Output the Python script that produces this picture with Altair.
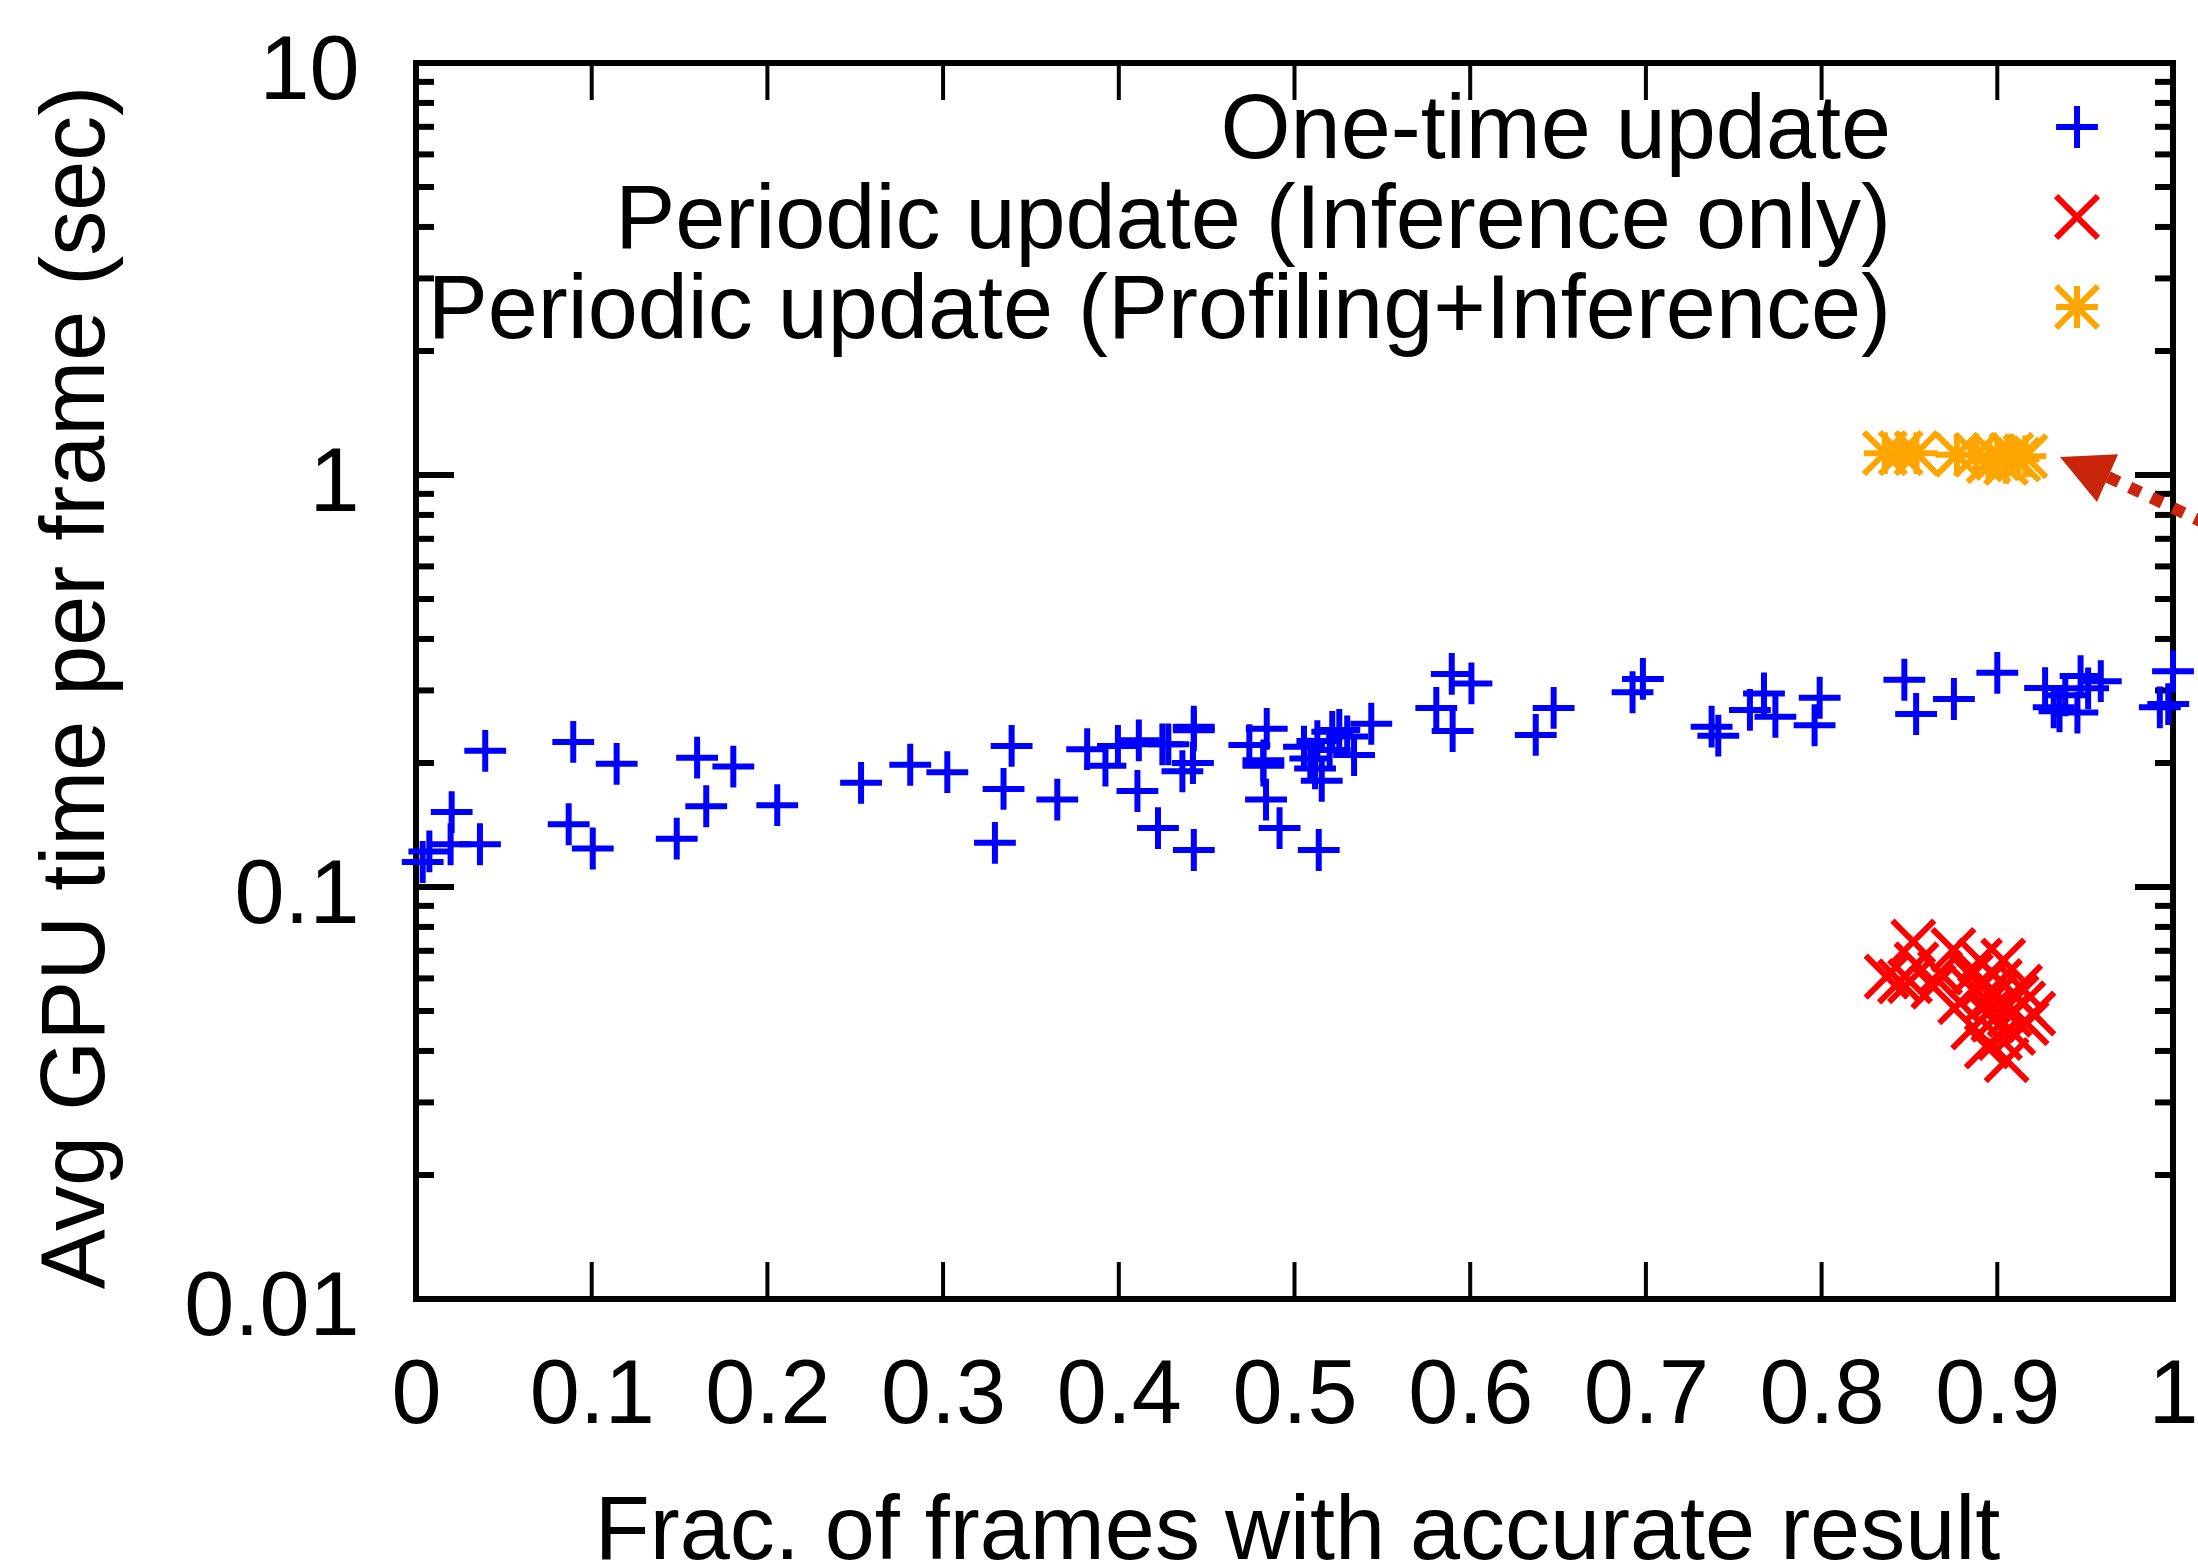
import altair as alt
import pandas as pd

# ---------------- data ----------------
x_tick_values = [0, 0.1, 0.2, 0.3, 0.4, 0.5, 0.6, 0.7, 0.8, 0.9, 1.0]
y_major_values = [0.01, 0.1, 1, 10]
y_minor_values = [0.02, 0.03, 0.04, 0.05, 0.06, 0.07, 0.08, 0.09,
                  0.2, 0.3, 0.4, 0.5, 0.6, 0.7, 0.8, 0.9,
                  2, 3, 4, 5, 6, 7, 8, 9]

series_names = ["One-time update",
                "Periodic update (Inference only)",
                "Periodic update (Profiling+Inference)"]
series_colors = ["#0000ff", "#ff0000", "#ffa500"]

one_time_x = [0.0038, 0.0076, 0.0197, 0.0203, 0.0364, 0.0394, 0.0869, 0.0895, 0.1006, 0.1142,
              0.1484, 0.160, 0.1652, 0.1806, 0.2056, 0.2533, 0.2813, 0.3024, 0.3295, 0.3344,
              0.339, 0.365, 0.382, 0.3924, 0.3995, 0.4106, 0.4114, 0.4223, 0.4248, 0.4282,
              0.4362, 0.4422, 0.4427, 0.4427, 0.4427, 0.4743, 0.4823, 0.4823, 0.4842, 0.4838,
              0.4915, 0.5054, 0.509, 0.5117, 0.513, 0.5138, 0.5155, 0.5200, 0.5215, 0.5255,
              0.530, 0.5339, 0.5437, 0.5807, 0.5895, 0.590, 0.6007, 0.6373, 0.6475, 0.6924,
              0.6983, 0.7374, 0.7412, 0.7592, 0.7672, 0.7737, 0.796, 0.7989, 0.8471, 0.8538,
              0.8753, 0.900, 0.9272, 0.9321, 0.9354, 0.9387, 0.9456, 0.9474, 0.9517, 0.9589,
              0.9925, 0.9973, 1.0]
one_time_y = [0.115, 0.122, 0.127, 0.152, 0.127, 0.214, 0.142, 0.225, 0.124, 0.199,
              0.131, 0.206, 0.157, 0.196, 0.158, 0.179, 0.198, 0.190, 0.128, 0.173,
              0.220, 0.163, 0.216, 0.197, 0.220, 0.171, 0.227, 0.139, 0.222, 0.222,
              0.191, 0.200, 0.245, 0.240, 0.123, 0.221, 0.203, 0.197, 0.242, 0.163,
              0.139, 0.219, 0.205, 0.194, 0.226, 0.123, 0.181, 0.215, 0.238, 0.2405,
              0.232, 0.209, 0.249, 0.272, 0.329, 0.239, 0.312, 0.234, 0.272, 0.297,
              0.320, 0.245, 0.233, 0.269, 0.295, 0.259, 0.247, 0.288, 0.3185, 0.263,
              0.286, 0.331, 0.304, 0.273, 0.267, 0.292, 0.265, 0.325, 0.3035, 0.316,
              0.273, 0.278, 0.334]

infer_only_x = [0.837, 0.8446, 0.8503, 0.8522, 0.854, 0.8636, 0.8674, 0.875, 0.8788, 0.8863,
                0.8863, 0.8901, 0.894, 0.894, 0.8977, 0.9015, 0.9015, 0.9034, 0.9053, 0.9091,
                0.913, 0.9148, 0.9167, 0.9205, 0.8958, 0.8996, 0.907, 0.892, 0.885, 0.911]
infer_only_y = [0.0606, 0.059, 0.0591, 0.0737, 0.0649, 0.0573, 0.0619, 0.0703, 0.0525, 0.0563,
                0.0456, 0.0663, 0.0532, 0.041, 0.0476, 0.0591, 0.043, 0.0663, 0.038, 0.0442,
                0.0573, 0.0522, 0.0467, 0.0493, 0.050, 0.055, 0.049, 0.058, 0.061, 0.054]

prof_infer_x = [0.836, 0.845, 0.854, 0.877, 0.888, 0.895, 0.900, 0.905, 0.908, 0.912, 0.916]
prof_infer_y = [1.13, 1.13, 1.13, 1.12, 1.12, 1.08, 1.10, 1.07, 1.12, 1.09, 1.11]

# annotation arrow (data coordinates)
arrow_x = [0.963, 1.0324]
arrow_y = [0.989, 0.715]
arrow_tip_x = [0.9357]
arrow_tip_y = [1.106]

# ---------------- chart ----------------
W, H = 1757, 1236
FONT = "Liberation Sans"
FS = 90
ARROW = "#c8250a"

pts_df = pd.concat([
    pd.DataFrame({"x": one_time_x, "y": one_time_y, "series": series_names[0]}),
    pd.DataFrame({"x": infer_only_x, "y": infer_only_y, "series": series_names[1]}),
    pd.DataFrame({"x": prof_infer_x, "y": prof_infer_y, "series": series_names[2]}),
], ignore_index=True)

xscale = alt.Scale(domain=[0, 1], nice=False, zero=False)
yscale = alt.Scale(type="log", domain=[0.01, 10], nice=False)

PLUS = "M-1,0L1,0M0,-1L0,1"
CROSS = "M-1,-1L1,1M-1,1L1,-1"
STAR = "M-1,0L1,0M0,-1L0,1M-1,-1L1,1M-1,1L1,-1"
shape_scale = alt.Scale(domain=series_names, range=[PLUS, CROSS, STAR])
color_scale = alt.Scale(domain=series_names, range=series_colors)

points = alt.Chart(pts_df).mark_point(
    filled=False, opacity=1, strokeWidth=6, size=1750
).encode(
    x=alt.X("x:Q", scale=xscale, axis=alt.Axis(
        values=x_tick_values, format="~g", ticks=False, domain=False, grid=False,
        labelFont=FONT, labelFontSize=FS, labelPadding=52, labelFlush=False,
        labelColor="black",
        title="Frac. of frames with accurate result", titleFont=FONT,
        titleFontSize=FS, titleFontWeight="normal", titleColor="black",
        titleX=881, titleY=259, titleBaseline="alphabetic", titleAlign="center")),
    y=alt.Y("y:Q", scale=yscale, axis=alt.Axis(
        values=y_major_values, format="~g", ticks=False, domain=False, grid=False,
        labelFont=FONT, labelFontSize=FS, labelPadding=57, labelOffset=8,
        labelColor="black",
        title="Avg GPU time per frame (sec)", titleFont=FONT, titleFontSize=FS,
        titleFontWeight="normal", titleColor="black", titleAngle=270,
        titleX=-313, titleY=624, titleBaseline="alphabetic", titleAlign="center")),
    shape=alt.Shape("series:N", scale=shape_scale, legend=None),
    color=alt.Color("series:N", scale=color_scale, legend=None),
)

ymaj_df = pd.DataFrame({"v": y_major_values})
ymin_df = pd.DataFrame({"v": y_minor_values})
xt_df = pd.DataFrame({"v": x_tick_values})

def yticks(df, length, left):
    if left:
        xa, xb = 0, length
    else:
        xa, xb = W - length, W
    return alt.Chart(df).mark_rule(color="black", strokeWidth=6).encode(
        y=alt.Y("v:Q", scale=yscale, axis=None),
        x=alt.value(xa), x2=alt.value(xb))

def xticks(df, length, bottom):
    if bottom:
        ya, yb = H - length, H
    else:
        ya, yb = 0, length
    return alt.Chart(df).mark_rule(color="black", strokeWidth=4).encode(
        x=alt.X("v:Q", scale=xscale, axis=None),
        y=alt.value(ya), y2=alt.value(yb))

tick_layers = [
    yticks(ymaj_df, 38, True), yticks(ymaj_df, 38, False),
    yticks(ymin_df, 18, True), yticks(ymin_df, 18, False),
    xticks(xt_df, 37, True), xticks(xt_df, 37, False),
]

leg_df = pd.DataFrame({"series": series_names, "row": [0, 1, 2]})
leg_text = alt.Chart(leg_df).mark_text(
    align="right", baseline="alphabetic", font=FONT, fontSize=FS, color="black"
).encode(
    text="series:N",
    x=alt.value(1475),
    y=alt.Y("row:Q", scale=alt.Scale(domain=[0, 2], range=[95, 275], nice=False, zero=False), axis=None),
)
leg_sym = alt.Chart(leg_df).mark_point(
    filled=False, opacity=1, strokeWidth=6, size=1750
).encode(
    x=alt.value(1661),
    y=alt.Y("row:Q", scale=alt.Scale(domain=[0, 2], range=[64, 244], nice=False, zero=False), axis=None),
    shape=alt.Shape("series:N", scale=shape_scale, legend=None),
    color=alt.Color("series:N", scale=color_scale, legend=None),
)

arrow_df = pd.DataFrame({"x": [arrow_x[0]], "y": [arrow_y[0]],
                         "x2": [arrow_x[1]], "y2": [arrow_y[1]]})
arrow_line = alt.Chart(arrow_df).mark_rule(
    color=ARROW, strokeWidth=12, strokeDash=[12, 12]
).encode(
    x=alt.X("x:Q", scale=xscale, axis=None),
    y=alt.Y("y:Q", scale=yscale, axis=None),
    x2="x2:Q", y2="y2:Q",
)
tip_df = pd.DataFrame({"x": arrow_tip_x, "y": arrow_tip_y})
arrow_head = alt.Chart(tip_df).mark_point(
    shape="M0,0L2,-1L2,1Z", filled=True, size=2704, angle=24, color=ARROW, opacity=1
).encode(
    x=alt.X("x:Q", scale=xscale, axis=None),
    y=alt.Y("y:Q", scale=yscale, axis=None),
)

chart = alt.layer(
    *tick_layers, points, leg_text, leg_sym, arrow_line, arrow_head
).resolve_scale(
    y="independent"
).resolve_axis(
    x="independent", y="independent"
).properties(
    width=W, height=H,
    autosize=alt.AutoSizeParams(type="none"),
    padding={"left": 416, "top": 63, "right": 25, "bottom": 264},
).configure_view(
    stroke="black", strokeWidth=6
)

chart.save("out.html", embed_options={"renderer": "svg", "actions": False})
